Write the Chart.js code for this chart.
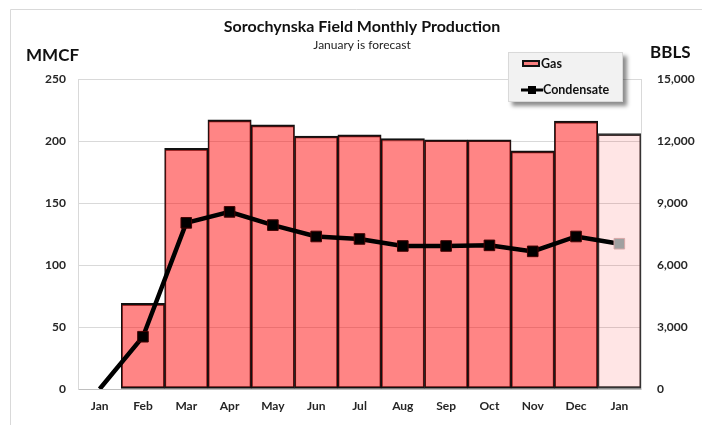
<!DOCTYPE html>
<html>
<head>
<meta charset="utf-8">
<script src="https://cdn.jsdelivr.net/npm/chart.js@4/dist/chart.umd.min.js"></script>
<style>
  html, body { margin: 0; padding: 0; background: #fff; }
  #wrap { position: relative; width: 702px; height: 425px; }
</style>
</head>
<body>
<div id="wrap"><canvas id="c" width="702" height="425"></canvas></div>
<script>
// ---- data ----
const categories = ['Jan', 'Feb', 'Mar', 'Apr', 'May', 'Jun', 'Jul', 'Aug', 'Sep', 'Oct', 'Nov', 'Dec', 'Jan'];
const gasMMCF = [null, 69, 194, 217, 213, 204, 205, 202, 201, 201, 192, 216, 206];
const condensateBBLS = [0, 2530, 8040, 8570, 7930, 7380, 7260, 6920, 6920, 6950, 6660, 7380, 7030];
const forecast = [false, false, false, false, false, false, false, false, false, false, false, false, true];
const gasTicks = [0, 50, 100, 150, 200, 250];
const bblsTicks = [0, 3000, 6000, 9000, 12000, 15000];
const titleText = 'Sorochynska Field Monthly Production';
const subtitleText = 'January is forecast';
const leftUnit = 'MMCF';
const rightUnit = 'BBLS';

const FONT = 'Lato, "Open Sans", sans-serif';
const GAS_FILL = 'rgba(255, 0, 0, 0.48)';
const GAS_FORECAST_FILL = 'rgba(255, 0, 0, 0.10)';

const fixedSize = (prop, v) => (scale) => { scale[prop] = v; };

const decor = {
  id: 'decor',
  beforeDraw(chart) {
    const ctx = chart.ctx;
    ctx.save();
    ctx.strokeStyle = '#d9d9d9';
    ctx.lineWidth = 1;
    ctx.beginPath();
    ctx.moveTo(10.5, 425);
    ctx.lineTo(10.5, 9.5);
    ctx.lineTo(702, 9.5);
    ctx.stroke();
    ctx.restore();
  },
  afterDraw(chart) {
    const ctx = chart.ctx;
    ctx.save();
    ctx.fillStyle = '#111';
    ctx.textBaseline = 'middle';
    ctx.textAlign = 'center';
    ctx.font = 'bold 16px ' + FONT;
    ctx.fillText(titleText, 362, 27);
    ctx.font = '12px ' + FONT;
    ctx.fillStyle = '#222';
    ctx.fillText(subtitleText, 362, 45);
    ctx.fillStyle = '#111';
    ctx.font = 'bold 17px ' + FONT;
    ctx.textAlign = 'left';
    ctx.fillText(leftUnit, 26, 56);
    ctx.fillText(rightUnit, 650, 53);

    // legend
    const lx = 508, ly = 52, lw = 115, lh = 50;
    ctx.save();
    ctx.shadowColor = 'rgba(0,0,0,0.45)';
    ctx.shadowOffsetX = 4;
    ctx.shadowOffsetY = 4;
    ctx.shadowBlur = 4;
    ctx.fillStyle = '#f2f2f2';
    ctx.fillRect(lx, ly, lw, lh);
    ctx.restore();
    ctx.strokeStyle = '#d9d9d9';
    ctx.lineWidth = 1;
    ctx.strokeRect(lx + 0.5, ly + 0.5, lw - 1, lh - 1);

    const ds = chart.data.datasets;
    // gas swatch
    ctx.fillStyle = GAS_FILL;
    ctx.fillRect(522, 60, 18, 7);
    ctx.strokeStyle = '#111';
    ctx.lineWidth = 2;
    ctx.strokeRect(523, 61, 16, 5);
    ctx.fillStyle = '#111';
    ctx.font = 'bold 12.5px ' + FONT;
    ctx.textAlign = 'left';
    ctx.fillText(ds[1].label, 541, 64);
    // condensate swatch
    ctx.strokeStyle = '#000';
    ctx.lineWidth = 3;
    ctx.beginPath();
    ctx.moveTo(521, 90);
    ctx.lineTo(543, 90);
    ctx.stroke();
    ctx.fillStyle = '#000';
    ctx.fillRect(528, 86, 8, 8);
    ctx.fillStyle = '#111';
    ctx.fillText(ds[0].label, 543, 90);
    ctx.restore();
  }
};

const tickFont = { family: FONT, size: 12, weight: 'bold' };

new Chart(document.getElementById('c'), {
  data: {
    labels: categories,
    datasets: [
      {
        type: 'line',
        label: 'Condensate',
        data: condensateBBLS,
        yAxisID: 'y1',
        order: 0,
        borderColor: '#000',
        borderWidth: 4.5,
        pointStyle: 'rect',
        pointRadius: (c) => (condensateBBLS[c.dataIndex] === 0 ? 0 : 7.5),
        pointBackgroundColor: (c) => (forecast[c.dataIndex] ? '#a0a0a0' : '#000'),
        pointBorderColor: (c) => (forecast[c.dataIndex] ? '#d8a8a8' : '#400'),
        pointBorderWidth: 1,
        tension: 0
      },
      {
        type: 'bar',
        label: 'Gas',
        data: gasMMCF,
        yAxisID: 'y',
        order: 1,
        backgroundColor: (c) => (forecast[c.dataIndex] ? GAS_FORECAST_FILL : GAS_FILL),
        borderColor: (c) => (forecast[c.dataIndex] ? '#333' : '#111'),
        borderWidth: { top: 2, bottom: 2, left: 1.2, right: 1.2 },
        borderSkipped: false,
        barPercentage: 1,
        categoryPercentage: 1
      }
    ]
  },
  options: {
    responsive: false,
    animation: false,
    events: [],
    layout: { autoPadding: false, padding: { top: 79, left: 0, right: 0, bottom: 0 } },
    plugins: { legend: { display: false }, tooltip: { enabled: false }, title: { display: false } },
    scales: {
      x: {
        type: 'category',
        offset: true,
        grid: { display: false, drawTicks: false },
        border: { color: '#bfbfbf', width: 1 },
        ticks: { font: tickFont, color: '#262626', padding: 10, maxRotation: 0, autoSkip: false },
        afterFit: fixedSize('height', 36)
      },
      y: {
        position: 'left',
        min: 0,
        max: 250,
        afterBuildTicks: (s) => { s.ticks = gasTicks.map(v => ({ value: v })); },
        grid: { color: '#d9d9d9', drawTicks: false },
        border: { color: '#d9d9d9' },
        ticks: { font: tickFont, color: '#262626', padding: 12 },
        afterFit: fixedSize('width', 78)
      },
      y1: {
        position: 'right',
        min: 0,
        max: 15000,
        afterBuildTicks: (s) => { s.ticks = bblsTicks.map(v => ({ value: v })); },
        grid: { display: false, drawTicks: false },
        border: { color: '#d9d9d9' },
        ticks: { font: tickFont, color: '#262626', padding: 16,
                 callback: (v) => v.toLocaleString('en-US') },
        afterFit: fixedSize('width', 61)
      }
    }
  },
  plugins: [decor]
});
</script>
</body>
</html>
